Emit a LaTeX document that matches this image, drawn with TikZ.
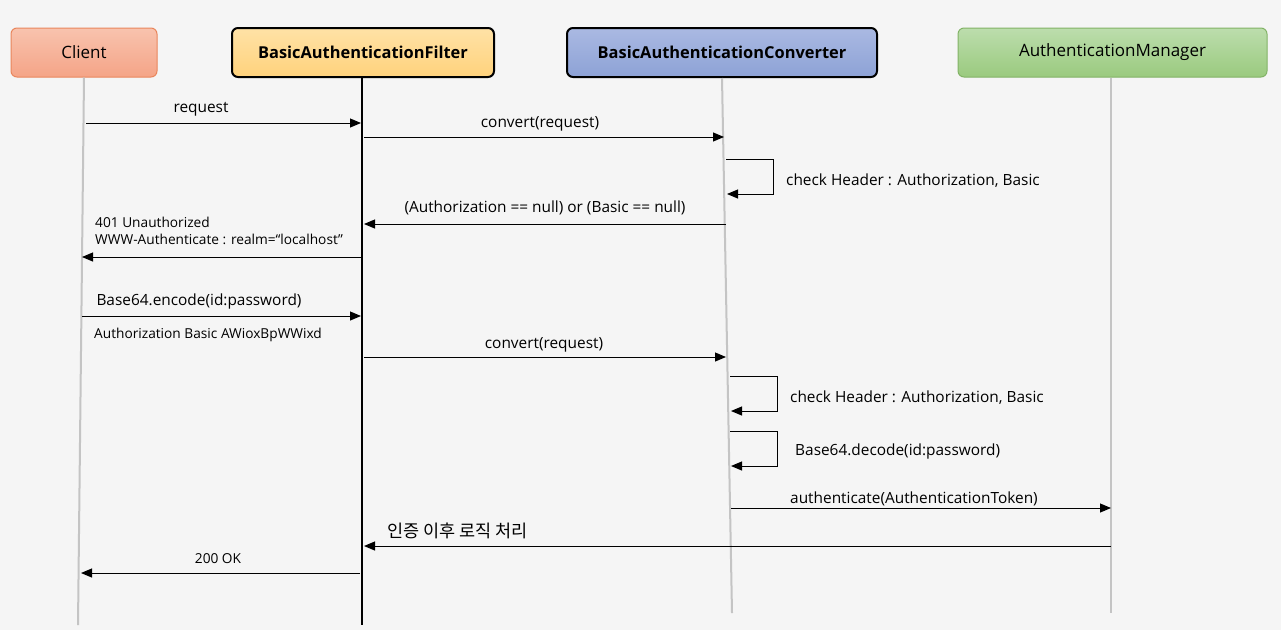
\documentclass[tikz,border=0pt]{standalone}
\usepackage{fontspec}
\setmainfont{Open Sans}
\newfontfamily\kofont{Noto Sans CJK KR}
\usetikzlibrary{arrows.meta}
\definecolor{bg}{HTML}{F5F5F5}
\definecolor{lifegray}{HTML}{C4C4C4}
\definecolor{clientTop}{HTML}{F8C3AE}
\definecolor{clientBot}{HTML}{F5A487}
\definecolor{clientLine}{HTML}{E9865C}
\definecolor{filterTop}{HTML}{FFE2A6}
\definecolor{filterBot}{HTML}{FFD27C}
\definecolor{convTop}{HTML}{AAB9E2}
\definecolor{convBot}{HTML}{8DA2D6}
\definecolor{mgrTop}{HTML}{BCDDAD}
\definecolor{mgrBot}{HTML}{9ACA7E}
\definecolor{mgrLine}{HTML}{82B366}
\tikzset{
  actor/.style={rounded corners=6pt, minimum height=49pt, inner sep=0pt, font=\fontsize{17}{20}\selectfont},
  actorbold/.style={actor, draw=black, line width=2pt, font=\fontsize{16.4}{20}\selectfont\bfseries},
  lifeline/.style={draw=lifegray, line width=2pt},
  msg/.style={draw=black, line width=1pt, -{Triangle[length=11pt,width=9pt]}},
  lbl/.style={inner sep=0pt, font=\fontsize{15.4}{18}\selectfont},
  small/.style={inner sep=0pt, font=\fontsize{13.7}{17}\selectfont, align=left},
}
\begin{document}
\begin{tikzpicture}[x=1pt,y={(0pt,-1pt)}]
\fill[bg] (0,0) rectangle (1281,630);
\useasboundingbox (0,0) rectangle (1281,630);

% actors
\node[actor, draw=clientLine, line width=1pt, top color=clientTop, bottom color=clientBot, minimum width=146pt] (client) at (84,52.5) {\raisebox{-1.5pt}{Client}};
\node[actorbold, top color=filterTop, bottom color=filterBot, minimum width=262pt] (filter) at (363,52.5) {\raisebox{-1.5pt}{BasicAuthenticationFilter}};
\node[actorbold, top color=convTop, bottom color=convBot, minimum width=310pt] (conv) at (722,52.5) {\raisebox{-1.5pt}{BasicAuthenticationConverter}};
\node[actor, draw=mgrLine, line width=1pt, top color=mgrTop, bottom color=mgrBot, minimum width=309pt] (mgr) at (1112.5,52.5) {\raisebox{-1.5pt}{AuthenticationManager}};

% lifelines
\coordinate (cEnd) at (78,625);
\coordinate (fEnd) at (362,625);
\coordinate (vEnd) at (732,613);
\coordinate (mEnd) at (1111,613);
\draw[lifeline] (client.south) -- (cEnd);
\draw[black, line width=2pt] (362,78) -- (fEnd);
\draw[lifeline] (conv.south) -- (vEnd);
\draw[lifeline] (1111,78) -- (mEnd);

% message end points
\coordinate (c1) at (86,123);   \coordinate (f1) at (361,123);
\coordinate (f2) at (364,137);  \coordinate (v2) at (724,137);
\coordinate (v3a) at (726,159); \coordinate (v3b) at (727,194);
\coordinate (v4) at (726,224);  \coordinate (f4) at (364,224);
\coordinate (f5) at (361,257);  \coordinate (c5) at (82,257);
\coordinate (c6) at (82,316);   \coordinate (f6) at (361,316);
\coordinate (f7) at (364,357);  \coordinate (v7) at (726,357);
\coordinate (v8a) at (730,376); \coordinate (v8b) at (731,411);
\coordinate (v9a) at (730,431); \coordinate (v9b) at (731,466);
\coordinate (v10) at (731,508); \coordinate (m10) at (1111,508);
\coordinate (m11) at (1111,546);\coordinate (f11) at (364,546);
\coordinate (f12) at (360,573); \coordinate (c12) at (81,573);

% messages
\draw[msg] (c1) -- (f1);
\node[lbl] (l1) at (201,109.5) {request};
\draw[msg] (f2) -- (v2);
\node[lbl] (l2) at (540,123.5) {convert(request)};
\draw[msg] (v3a) -- ++(47,0) |- (v3b);
\node[lbl, anchor=west] (l3) at (786,180.5) {check Header : Authorization, Basic};
\draw[msg] (v4) -- (f4);
\node[lbl] (l4) at (545,207.5) {(Authorization == null) or (Basic == null)};
\draw[msg] (f5) -- (c5);
\node[small, anchor=north west] (l5) at (95,217) {401 Unauthorized\\WWW-Authenticate : realm=“localhost”};
\draw[msg] (c6) -- (f6);
\node[lbl] (l6) at (199,301.5) {Base64.encode(id:password)};
\node[small, anchor=west] (l6b) at (94,335) {Authorization Basic AWioxBpWWixd};
\draw[msg] (f7) -- (v7);
\node[lbl] (l7) at (544,344.5) {convert(request)};
\draw[msg] (v8a) -- ++(47,0) |- (v8b);
\node[lbl, anchor=west] (l8) at (790,397.5) {check Header : Authorization, Basic};
\draw[msg] (v9a) -- ++(47,0) |- (v9b);
\node[lbl, anchor=west] (l9) at (795,451.5) {Base64.decode(id:password)};
\draw[msg] (v10) -- (m10);
\node[lbl, anchor=west] (l10) at (790,498.5) {authenticate(AuthenticationToken)};
\draw[msg] (m11) -- (f11);
\node[lbl, anchor=west, font=\kofont\fontsize{17.5}{20}\selectfont] (l11) at (387,531) {인증 이후 로직 처리};
\draw[msg] (f12) -- (c12);
\node[small] (l12) at (218,559) {200 OK};
\end{tikzpicture}
\end{document}
